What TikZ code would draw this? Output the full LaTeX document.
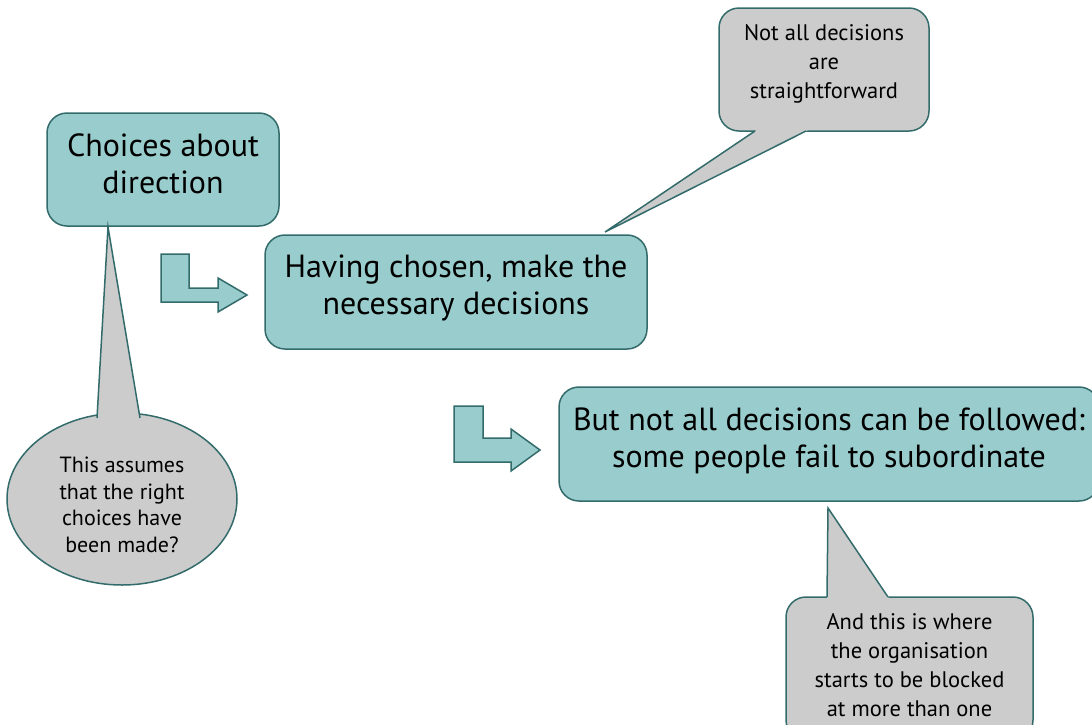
\documentclass[tikz,border=0pt]{standalone}
\usepackage{fontspec}
\setmainfont{PT Sans}
\usetikzlibrary{shapes.geometric,calc}

\definecolor{tealfill}{HTML}{99CCCC}
\definecolor{tealline}{HTML}{336B6B}
\definecolor{notefill}{HTML}{CCCCCC}

\tikzset{
  stage/.style={draw=tealline, fill=tealfill, line width=1.5pt, rounded corners=20pt, inner sep=0pt},
  stagetext/.style={align=center, font=\fontsize{32}{37}\selectfont},
  note/.style={draw=tealline, fill=notefill, line width=1.5pt, rounded corners=20pt, inner sep=0pt},
  noteball/.style={ellipse, draw=tealline, fill=notefill, line width=1.5pt, inner sep=0pt},
  notetext/.style={align=center, font=\fontsize{22.5}{29}\selectfont},
  tail/.style={draw=tealline, line width=1.5pt, line join=miter},
  turn/.style={draw=tealline, fill=tealfill, line width=1.5pt, line join=miter},
}

\begin{document}
\begin{tikzpicture}[x=1pt,y=-1pt]
\useasboundingbox (0,0) rectangle (1092,724);

% the three stages
\node[stage, minimum width=232pt, minimum height=113pt,
  label={[stagetext, yshift=6pt]center:Choices about\\direction}] (choices) at (163,169.5) {};
\node[stage, minimum width=382pt, minimum height=114pt,
  label={[stagetext, yshift=4pt]center:Having chosen, make the\\necessary decisions}] (decide) at (456,292) {};
\node[stage, minimum width=540pt, minimum height=114pt,
  label={[stagetext, yshift=3pt]center:But not all decisions can be followed:\\some people fail to subordinate}] (follow) at (829,444) {};

% turning arrows
\draw[turn] (161,254) -- (189,254) -- (189,288) -- (218,288) -- (218,278)
  -- (247,295) -- (218,312) -- (218,302) -- (161,302) -- cycle;
\draw[turn] (454,406) -- (483,406) -- (483,438) -- (511,438) -- (511,429)
  -- (540,450) -- (511,471) -- (511,462) -- (454,462) -- cycle;

% callout: not all decisions
\coordinate (notall-tip) at (605,232);
\coordinate (notall-a) at (755,131);
\coordinate (notall-b) at (806,131);
\node[note, minimum width=210pt, minimum height=123pt,
  label={[notetext, yshift=6pt]center:Not all decisions\\are\\straightforward}] (notall) at (824,69.5) {};
\fill[notefill] (notall-tip) -- ($(notall-tip)!1.05!(notall-a)$) -- ($(notall-tip)!1.05!(notall-b)$) -- cycle;
\draw[tail] (notall-a) -- (notall-tip) -- (notall-b);

% callout: assumptions
\coordinate (assumes-tip) at (108,227);
\coordinate (assumes-a) at (97,418);
\coordinate (assumes-b) at (140,418);
\node[noteball, minimum width=230pt, minimum height=172pt,
  label={[notetext, font=\fontsize{22}{26.5}\selectfont, yshift=-6pt]center:This assumes\\that the right\\choices have\\been made?}] (assumes) at (122,499) {};
\fill[notefill] (assumes-tip) -- ($(assumes-tip)!1.06!(assumes-a)$) -- ($(assumes-tip)!1.06!(assumes-b)$) -- cycle;
\draw[tail] (assumes-a) -- (assumes-tip) -- (assumes-b);

% callout: blocked
\coordinate (blocked-tip) at (828,508);
\coordinate (blocked-a) at (827,597);
\coordinate (blocked-b) at (888,597);
\node[note, minimum width=247pt, minimum height=143pt,
  label={[notetext, yshift=3pt]center:And this is where\\the organisation\\starts to be blocked\\at more than one}] (blocked) at (909.5,668.5) {};
\fill[notefill] (blocked-tip) -- ($(blocked-tip)!1.08!(blocked-a)$) -- ($(blocked-tip)!1.08!(blocked-b)$) -- cycle;
\draw[tail] (blocked-a) -- (blocked-tip) -- (blocked-b);
\end{tikzpicture}
\end{document}
